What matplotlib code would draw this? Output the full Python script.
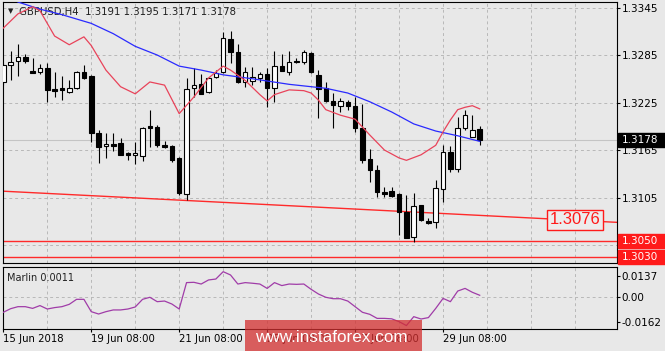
import numpy as np
import matplotlib.pyplot as plt
from matplotlib.patches import Rectangle

# Velas H4 GBPUSD (open, high, low, close)
opens = [1.3251, 1.3272, 1.3277, 1.3282, 1.3265, 1.3264, 1.3269, 1.3242, 1.3243, 1.3238,
         1.3243, 1.3264, 1.3259, 1.3187, 1.3170, 1.3173, 1.3174, 1.3161, 1.3159, 1.3157,
         1.3195, 1.3194, 1.3171, 1.3170, 1.3155, 1.3110, 1.3243, 1.3248, 1.3238, 1.3257,
         1.3264, 1.3305, 1.3289, 1.3251, 1.3252, 1.3256, 1.3261, 1.3243, 1.3271, 1.3264,
         1.3277, 1.3276, 1.3288, 1.3260, 1.3243, 1.3227, 1.3221, 1.3226, 1.3221, 1.3193,
         1.3154, 1.3140, 1.3112, 1.3113, 1.3110, 1.3087, 1.3055, 1.3096, 1.3075, 1.3074,
         1.3116, 1.3162, 1.3141, 1.3193, 1.3182, 1.3191]
highs = [1.3275, 1.3290, 1.3299, 1.3286, 1.3281, 1.3274, 1.3275, 1.3264, 1.3259, 1.3253,
         1.3265, 1.3272, 1.3260, 1.3190, 1.3187, 1.3187, 1.3180, 1.3163, 1.3175, 1.3194,
         1.3216, 1.3197, 1.3177, 1.3171, 1.3156, 1.3256, 1.3269, 1.3261, 1.3257, 1.3266,
         1.3314, 1.3315, 1.3299, 1.3270, 1.3270, 1.3264, 1.3269, 1.3290, 1.3286, 1.3290,
         1.3281, 1.3291, 1.3289, 1.3266, 1.3251, 1.3237, 1.3231, 1.3228, 1.3232, 1.3223,
         1.3166, 1.3146, 1.3118, 1.3118, 1.3111, 1.3108, 1.3111, 1.3096, 1.3079, 1.3127,
         1.3171, 1.3170, 1.3207, 1.3216, 1.3209, 1.3195]
lows = [1.3247, 1.3254, 1.3259, 1.3275, 1.3262, 1.3261, 1.3226, 1.3232, 1.3228, 1.3237,
        1.3242, 1.3255, 1.3175, 1.3149, 1.3155, 1.3164, 1.3159, 1.3152, 1.3147, 1.3151,
        1.3169, 1.3169, 1.3168, 1.3150, 1.3108, 1.3102, 1.3232, 1.3236, 1.3237, 1.3256,
        1.3262, 1.3275, 1.3250, 1.3245, 1.3247, 1.3251, 1.3219, 1.3226, 1.3265, 1.3260,
        1.3275, 1.3274, 1.3262, 1.3206, 1.3226, 1.3193, 1.3213, 1.3216, 1.3188, 1.3149,
        1.3125, 1.3106, 1.3106, 1.3106, 1.3058, 1.3054, 1.3049, 1.3075, 1.3072, 1.3067,
        1.3099, 1.3137, 1.3137, 1.3190, 1.3182, 1.3171]
closes = [1.3272, 1.3276, 1.3282, 1.3277, 1.3262, 1.3269, 1.3241, 1.3240, 1.3241, 1.3243,
          1.3264, 1.3256, 1.3187, 1.3169, 1.3173, 1.3170, 1.3159, 1.3159, 1.3161, 1.3193,
          1.3193, 1.3171, 1.3169, 1.3152, 1.3111, 1.3242, 1.3247, 1.3236, 1.3256, 1.3262,
          1.3306, 1.3289, 1.3251, 1.3264, 1.3257, 1.3261, 1.3243, 1.3271, 1.3265, 1.3276,
          1.3276, 1.3289, 1.3263, 1.3242, 1.3227, 1.3222, 1.3227, 1.3221, 1.3193, 1.3152,
          1.3140, 1.3112, 1.3110, 1.3107, 1.3087, 1.3054, 1.3094, 1.3076, 1.3073, 1.3117,
          1.3162, 1.3141, 1.3193, 1.3209, 1.3190, 1.3178]

# Medias moviles
lenta_idx = [0, 2, 5, 8, 12, 15, 18, 21, 24, 27, 30, 34, 39, 44, 47, 50, 53, 56, 59, 62, 65]
lenta = [1.3362, 1.3352, 1.3343, 1.3336, 1.3325, 1.3312, 1.3296, 1.3285, 1.3271, 1.3266,
         1.3260, 1.3255, 1.3248, 1.3243, 1.3237, 1.3226, 1.3213, 1.3198, 1.3189, 1.3183, 1.3176]
rapida_idx = [0, 2, 4, 5, 7, 9, 11, 12, 14, 16, 18, 20, 22, 24, 26, 28, 30, 31, 33, 35, 36,
              37, 39, 41, 42, 43, 44, 46, 48, 50, 52, 54, 55, 57, 59, 60, 61, 62, 63, 64, 65]
rapida = [1.3319, 1.3337, 1.3346, 1.3341, 1.3309, 1.3298, 1.3308, 1.3297, 1.3266, 1.3245,
          1.3236, 1.3251, 1.3247, 1.3211, 1.3232, 1.3256, 1.3271, 1.3266, 1.3253, 1.3235,
          1.3227, 1.3235, 1.3241, 1.3240, 1.3237, 1.3228, 1.3216, 1.3209, 1.3204, 1.3184,
          1.3165, 1.3155, 1.3152, 1.3159, 1.3171, 1.3188, 1.3203, 1.3216, 1.3219, 1.3221, 1.3217]

# Indicador Marlin
marlin = [-0.0098, -0.0075, -0.0062, -0.0062, -0.0073, -0.0055, -0.0077, -0.0068, -0.0062, -0.0047,
          -0.0015, -0.0015, -0.0094, -0.0109, -0.0094, -0.0083, -0.0083, -0.0077, -0.0064, -0.0015,
          -0.0002, -0.0030, -0.0026, -0.0045, -0.0077, 0.0092, 0.0094, 0.0083, 0.0109, 0.0115,
          0.0162, 0.0141, 0.0083, 0.0092, 0.0088, 0.0083, 0.0055, 0.0092, 0.0073, 0.0083,
          0.0081, 0.0083, 0.0049, 0.0019, -0.0002, -0.0011, -0.0011, -0.0026, -0.0062, -0.0098,
          -0.0111, -0.0137, -0.0137, -0.0140, -0.0158, -0.0183, -0.0126, -0.0141, -0.0132, -0.0073,
          -0.0009, -0.0030, 0.0038, 0.0055, 0.0030, 0.0011]

tendencia_idx = [0, 83]
tendencia = [1.3113, 1.3074]
soportes = [1.3050, 1.3030]
nivel = 1.3076
precio_actual = 1.3178

precio_ticks = [1.3345, 1.3285, 1.3225, 1.3165, 1.3105, 1.3045]
precio_etiq = ['1.3345', '1.3285', '1.3225', '1.3165', '1.3105', '']
marlin_ticks = [0.0137, 0.0, -0.0162]
marlin_etiq = ['0.0137', '0.00', '-0.0162']
fecha_idx = [0, 12, 24, 36, 48, 60]
fecha_etiq = ['15 Jun 2018', '19 Jun 08:00', '21 Jun 08:00', '25 Jun 08:00',
              '27 Jun 08:00', '29 Jun 08:00']
titulo = 'GBPUSD,H4  1.3191 1.3195 1.3171 1.3178'

# Estilo
W, H = 665, 351
fondo = '#e8e8e8'
gris = '#b8b8b8'
rojo = '#ff2a2a'

fig = plt.figure(figsize=(W / 100, H / 100), dpi=100, facecolor=fondo)

def caja(x0, y0, x1, y1):
    return [x0 / W, 1 - y1 / H, (x1 - x0) / W, (y1 - y0) / H]

ax = fig.add_axes(caja(3, 2, 617, 263), facecolor=fondo)
ax2 = fig.add_axes(caja(3, 267, 617, 329), facecolor=fondo)

xmin, xmax = -0.04, 83.73
ymin, ymax = 1.30223, 1.3352
ax.set_xlim(xmin, xmax)
ax.set_ylim(ymin, ymax)
ax2.set_xlim(xmin, xmax)
ax2.set_ylim(-0.0205, 0.0192)

for a in (ax, ax2):
    for s in a.spines.values():
        s.set_color('black')
        s.set_linewidth(0.8)
    for xv in range(6, 84, 6):
        a.axvline(xv, color=gris, lw=0.7, ls=(0, (3, 3)), zorder=1)

for yv in precio_ticks:
    ax.axhline(yv, color=gris, lw=0.7, ls=(0, (3, 3)), zorder=1)
ax2.axhline(0, color=gris, lw=0.7, ls=(0, (3, 3)), zorder=1)

# Linea de precio actual
ax.axhline(precio_actual, color='#c4c4c4', lw=0.8, zorder=1)

# Soportes y tendencia
for s in soportes:
    ax.axhline(s, color=rojo, lw=1.0, zorder=2)
ax.axline((tendencia_idx[0], tendencia[0]), (tendencia_idx[1], tendencia[1]),
          color=rojo, lw=1.0, zorder=2)

# Medias
ax.plot(lenta_idx, lenta, color='#2a2aff', lw=0.9, zorder=5)
ax.plot(rapida_idx, rapida, color='#e8435a', lw=0.9, zorder=5)

# Velas
x = np.arange(len(opens))
o = np.array(opens)
c = np.array(closes)
ax.vlines(x, lows, highs, color='black', lw=0.8, zorder=3)
cuerpo = np.maximum(np.abs(c - o), 0.00003)
colores = ['white' if cc >= oo else 'black' for oo, cc in zip(o, c)]
ax.bar(x, cuerpo, bottom=np.minimum(o, c), width=0.62, color=colores,
       edgecolor='black', linewidth=0.8, zorder=4)

# Eje de precios a la derecha
ax.yaxis.tick_right()
ax.set_yticks(precio_ticks)
ax.set_yticklabels(precio_etiq)
ax.tick_params(axis='y', direction='out', length=2.5, pad=1, labelsize=7.5,
               colors='black', width=0.8)
ax.set_xticks([])

# Etiquetas de precio en cajas
tr = ax.get_yaxis_transform()
alto = 14 * (ymax - ymin) / 261
x0b = (618 - 3) / 614
anchob = (665 - 618) / 614
for val, fc in [(precio_actual, 'black'), (soportes[0], '#ff1a1a'), (soportes[1], '#ff1a1a')]:
    ax.add_patch(Rectangle((x0b, val - alto / 2), anchob, alto, transform=tr,
                           facecolor=fc, edgecolor=fc, clip_on=False, zorder=10))
    ax.text((622 - 3) / 614, val, f'{val:.4f}', transform=tr, color='white',
            fontsize=7.5, va='center', ha='left', clip_on=False, zorder=11)

# Nivel 1.3076
ax.text((549.5 - 3.3) / 7.33, nivel + 0.0001, f'{nivel:.4f}', color='#ff1a1a',
        fontsize=12, family='Liberation Sans', va='center', ha='left', zorder=8,
        bbox=dict(boxstyle='square,pad=0.15', fc='#ececec', ec='#ff1a1a', lw=1))

# Cabecera
ax.text((11 - 3) / 614, 1 - (11.5 - 2) / 261, '\u25bc', transform=ax.transAxes,
        fontsize=5, va='center', ha='center', color='#202020')
ax.text((19 - 3) / 614, 1 - (12 - 2) / 261, titulo, transform=ax.transAxes,
        fontsize=7.3, va='center', ha='left', color='#202020')

# Panel Marlin
ax2.plot(x, marlin, color='#a03ca8', lw=0.9, zorder=3)
ax2.text((7 - 3) / 614, 1 - (278 - 267) / 62, f'Marlin {marlin[-1]:.4f}',
         transform=ax2.transAxes, fontsize=7, va='center', ha='left', color='#202020')
ax2.yaxis.tick_right()
ax2.set_yticks(marlin_ticks)
ax2.set_yticklabels(marlin_etiq)
ax2.tick_params(axis='y', direction='out', length=2.5, pad=1, labelsize=7.5, width=0.8)
ax2.set_xticks(fecha_idx)
ax2.set_xticklabels(fecha_etiq)
ax2.tick_params(axis='x', direction='out', length=2.5, pad=1, labelsize=7.3, width=0.8)
for t in ax2.get_xticklabels():
    t.set_ha('left')

# Marca de agua
fig.patches.append(Rectangle((245 / W, 0), 177 / W, 31 / H, transform=fig.transFigure,
                             facecolor='#d32f2f', alpha=0.75, edgecolor='none', zorder=20))
fig.text(331.5 / W, 1 - 342 / H, 'www.instaforex.com', color='white', fontsize=12.3,
         family='Liberation Sans', ha='center', va='baseline', zorder=21)

fig.savefig('out.png', dpi=100, facecolor=fondo)
